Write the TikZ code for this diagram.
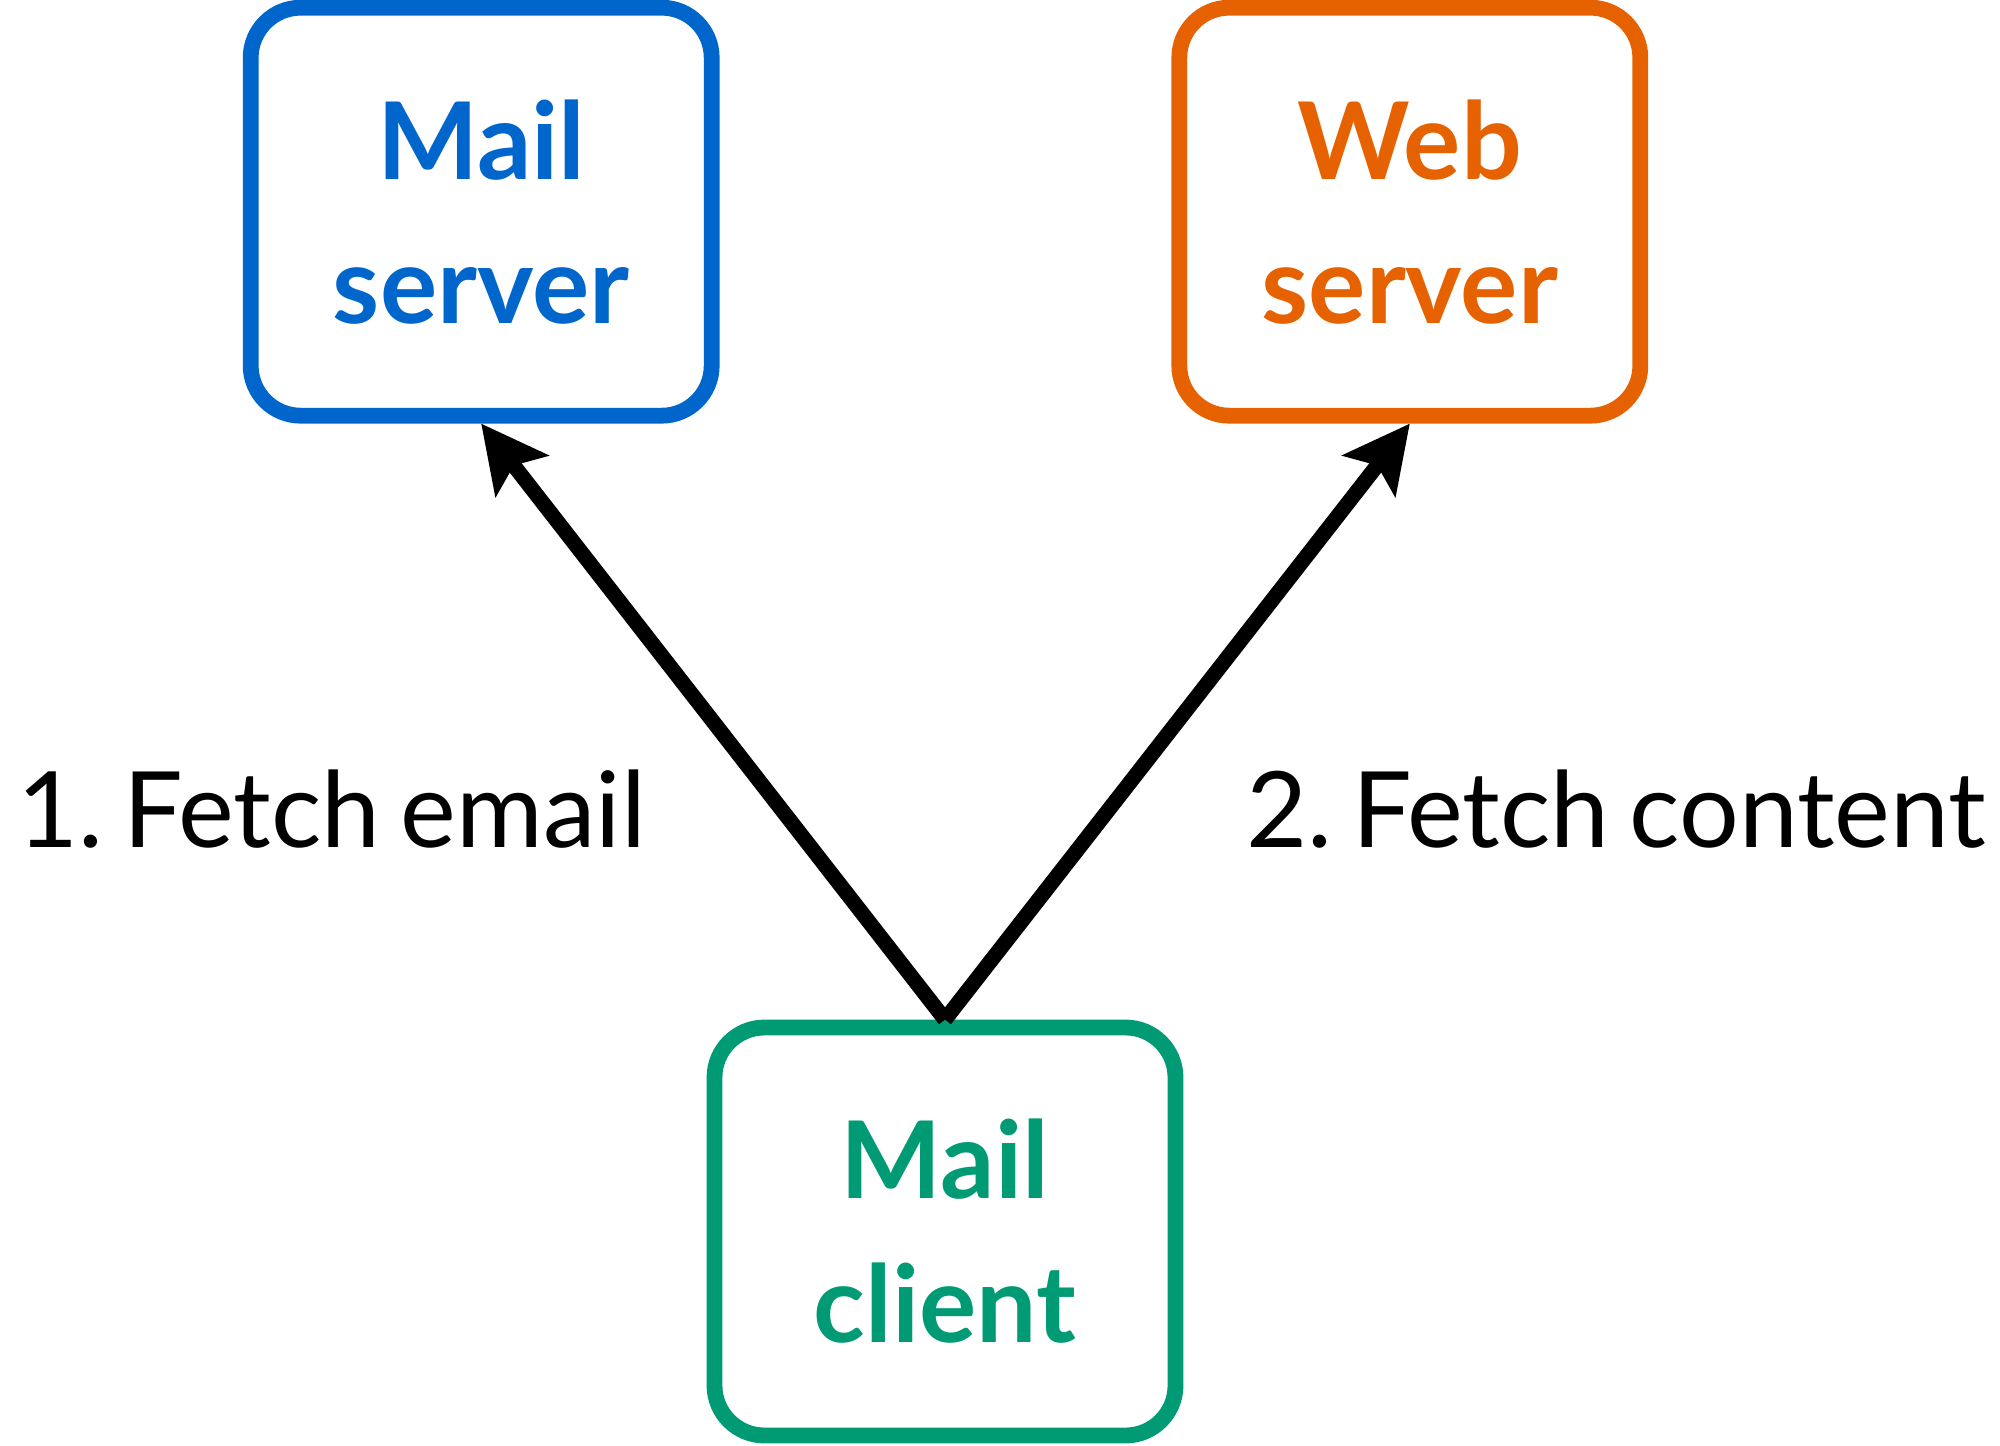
\documentclass[tikz,border=0pt]{standalone}
\usepackage{fontspec}
\setmainfont{Lato}[WordSpace=0.75]
\frenchspacing
\usetikzlibrary{positioning,arrows.meta}
\definecolor{mailblue}{HTML}{0066CC}
\definecolor{weborange}{HTML}{E66100}
\definecolor{clientgreen}{HTML}{009B74}
\tikzset{
  box/.style={draw, rounded corners=0.5cm, line width=4.5pt,
    minimum width=4.61cm, minimum height=4.08cm, align=center,
    font=\fontsize{30.5}{41}\selectfont\bfseries},
  fetch/.style={line width=4.3pt, -{Stealth[length=0.66cm, width=0.66cm, inset=0.13cm]}},
  step label/.style={anchor=base, font=\fontsize{30}{36}\selectfont}
}
\begin{document}
\begin{tikzpicture}
  \useasboundingbox (0,0) rectangle (20,14.45);
  \node [box, clientgreen] (b) at (9.45,2.135) {Mail\\client};
  \node [box, mailblue, above left=5.96cm and -0.13cm of b] (tl) {Mail\\server};
  \node [box, weborange, above right=5.96cm and -0.12cm of b] (tr) {Web\\server};
  \draw [fetch] (b.north) -- (tl.south);
  \draw [fetch] (b.north) -- (tr.south);
  \node [step label] (l) at (3.315,5.98) {1. Fetch email};
  \node [step label] (r) at (16.16,5.98) {2. Fetch content};
\end{tikzpicture}
\end{document}
